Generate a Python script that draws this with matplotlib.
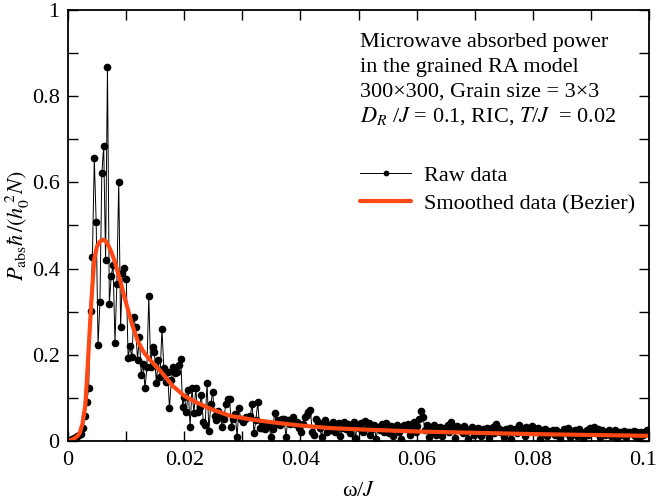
import numpy as np
import matplotlib
matplotlib.use("Agg")
import matplotlib.pyplot as plt
from matplotlib.ticker import MultipleLocator
from matplotlib.transforms import ScaledTranslation

# raw absorbed power (uniform omega grid up to ~0.1)
RAW_PEAK = [0.003, 0.004, 0.006, 0.008, 0.012, 0.014, 0.016, 0.03, 0.059, 0.09,
            0.124, 0.302, 0.428, 0.656, 0.507, 0.223, 0.322, 0.621, 0.684, 0.42,
            0.867, 0.318, 0.383, 0.408, 0.228, 0.364, 0.602, 0.265, 0.39, 0.401,
            0.376, 0.193, 0.22]
RAW_SHOULDER = [0.194, 0.288, 0.264, 0.188, 0.241, 0.153, 0.179, 0.122, 0.172, 0.337,
                0.172, 0.219, 0.207, 0.135, 0.188, 0.149, 0.261, 0.169, 0.138, 0.161,
                0.076, 0.142, 0.172, 0.158, 0.161, 0.176, 0.19, 0.08, 0.103, 0.068,
                0.118, 0.033, 0.124, 0.064, 0.122, 0.068, 0.08, 0.107, 0.045, 0.037,
                0.135]
RAW_MID = [0.024, 0.086, 0.114, 0.058, 0.049, 0.07, 0.056, 0.032, 0.052, 0.087,
           0.097, 0.097, 0.033, 0.052, 0.063, 0.009, 0.076, 0.05, 0.044, 0.052,
           0.056, 0.056, 0.058, 0.086, 0.018, 0.048, 0.091, 0.03, 0.03, 0.04,
           0.028, 0.038, 0.036, 0.009, 0.028, 0.066, 0.04, 0.048, 0.036, 0.05,
           0.052, 0.01, 0.048, 0.04, 0.05, 0.055, 0.04, 0.045, 0.03, 0.02,
           0.04, 0.055, 0.06, 0.068, 0.072, 0.02, 0.015, 0.052, 0.045, 0.03,
           0.01, 0.04, 0.048, 0.02]
RAW_TAIL = [0.038, 0.025, 0.045, 0.02, 0.035, 0.042, 0.012, 0.03, 0.044, 0.028,
            0.04, 0.018, 0.032, 0.045, 0.008, 0.036, 0.03, 0.041, 0.022, 0.047,
            0.03, 0.042, 0.015, 0.028, 0.036, 0.005, 0.033, 0.025, 0.04, 0.02,
            0.041, 0.026, 0.018, 0.035, 0.012, 0.03, 0.038, 0.022, 0.005, 0.031,
            0.036, 0.028, 0.04, 0.015, 0.032, 0.044, 0.02, 0.035, 0.05, 0.07,
            0.055, 0.025, 0.038, 0.01, 0.03, 0.022, 0.036, 0.015, 0.028, 0.033,
            0.012, 0.03, 0.025, 0.038, 0.02, 0.045, 0.03, 0.008, 0.034, 0.026,
            0.03, 0.018, 0.035, 0.022, 0.005, 0.028, 0.032, 0.015, 0.025, 0.03,
            0.02, 0.012, 0.028, 0.022, 0.03, 0.008, 0.025, 0.033, 0.018, 0.039,
            0.03, 0.02, 0.026, 0.01, 0.028, 0.022, 0.03, 0.005, 0.024, 0.027,
            0.018, 0.036, 0.03, 0.024, 0.012, 0.033, 0.02, 0.026, 0.035, 0.031,
            0.022, 0.03, 0.005, 0.025, 0.018, 0.028, 0.012, 0.024, 0.02, 0.026,
            0.015, 0.025, 0.02, 0.008, 0.022, 0.027, 0.018, 0.03, 0.01, 0.024,
            0.02, 0.025, 0.012, 0.028, 0.02, 0.005, 0.022, 0.026, 0.015, 0.03,
            0.024, 0.033, 0.018, 0.028, 0.01, 0.025, 0.02, 0.015, 0.022, 0.026,
            0.012, 0.02, 0.025, 0.008, 0.018, 0.022, 0.015, 0.024, 0.01, 0.02,
            0.022, 0.018, 0.024, 0.012, 0.02, 0.005, 0.022, 0.015, 0.02, 0.026]
RAW_OMEGA_MAX = 0.0996

# smoothed (Bezier) curve
SMOOTH_OMEGA = [0, 0.001, 0.0015, 0.002, 0.0025, 0.003, 0.0035, 0.004, 0.0045, 0.005,
                0.0055, 0.006, 0.0065, 0.007, 0.0075, 0.008, 0.0085, 0.009, 0.0095, 0.01,
                0.011, 0.012, 0.013, 0.014, 0.015, 0.016, 0.018, 0.02, 0.022, 0.025,
                0.028, 0.032, 0.036, 0.04, 0.045, 0.05, 0.06, 0.07, 0.08, 0.09, 0.1]
SMOOTH_P = [0, 0.005, 0.01, 0.018, 0.04, 0.085, 0.2, 0.32, 0.42, 0.452,
            0.463, 0.467, 0.464, 0.452, 0.437, 0.418, 0.395, 0.372, 0.345, 0.32,
            0.272, 0.232, 0.207, 0.19, 0.175, 0.161, 0.128, 0.105, 0.09, 0.072,
            0.058, 0.049, 0.042, 0.036, 0.03, 0.027, 0.022, 0.019, 0.016, 0.014, 0.012]

X_TICKS = [0, 0.02, 0.04, 0.06, 0.08, 0.1]
X_TICK_LABELS = ["0", "0.02", "0.04", "0.06", "0.08", "0.1"]
Y_TICKS = [0, 0.2, 0.4, 0.6, 0.8, 1.0]
Y_TICK_LABELS = ["0", "0.2", "0.4", "0.6", "0.8", "1"]

INFO_LINES = [
    "Microwave absorbed power",
    "in the grained RA model",
    "300\u00d7300, Grain size = 3\u00d73",
    r"$D_R$ /$J$ = 0.1, RIC, $T$/$J$  = 0.02",
]

plt.rcParams["font.family"] = ["Liberation Serif", "DejaVu Serif"]
plt.rcParams["mathtext.fontset"] = "stix"

raw = np.array(RAW_PEAK + RAW_SHOULDER + RAW_MID + RAW_TAIL)
omega = np.arange(1, len(raw) + 1) * RAW_OMEGA_MAX / len(raw)

fig = plt.figure(figsize=(6.58, 5.04), dpi=100)
ax = fig.add_axes([68 / 658, 63 / 504, 581 / 658, 431 / 504])

ax.plot(omega, raw, color="black", lw=0.7, marker="o", markersize=4.5,
        label="Raw data")
ax.plot(SMOOTH_OMEGA, SMOOTH_P, color="#ff4814", lw=3.0,
        solid_joinstyle="round", solid_capstyle="round",
        label="Smoothed data (Bezier)")

ax.set_xticks(X_TICKS)
ax.set_xticklabels(X_TICK_LABELS)
ax.set_yticks(Y_TICKS)
ax.set_yticklabels(Y_TICK_LABELS)
ax.xaxis.set_minor_locator(MultipleLocator(0.01))
ax.yaxis.set_minor_locator(MultipleLocator(0.1))
ax.set_xlim(0, 0.1)
ax.set_ylim(0, 1)
ax.tick_params(which="both", direction="in", top=True, right=True,
               length=7, width=1, labelsize=16)
ax.tick_params(axis="x", pad=7)
ax.tick_params(axis="y", pad=6)
for sp in ax.spines.values():
    sp.set_linewidth(1.3)

# last x label sits at the figure edge, nudge it inward a little
last = ax.get_xticklabels()[-1]
last.set_transform(last.get_transform() + ScaledTranslation(-6 / 100, 0, fig.dpi_scale_trans))

ax.set_xlabel("\u03c9/$J$", fontsize=16, labelpad=9)
ax.set_ylabel(r"$P_{\rm abs}\hbar\,/(h_0^{\,2}N)$", fontsize=16, labelpad=0)

for k, line in enumerate(INFO_LINES):
    ax.text(0.5026, (441 - 47 - 25 * k) / 431, line, transform=ax.transAxes,
            fontsize=16, va="baseline", ha="left")

ax.legend(loc="upper left", bbox_to_anchor=(0.5026, 0.64), frameon=False,
          fontsize=16, handlelength=2.3, handletextpad=0.6, labelspacing=0.36,
          borderpad=0, borderaxespad=0, numpoints=1, markerscale=0.7)

fig.savefig("out.png", dpi=100)
